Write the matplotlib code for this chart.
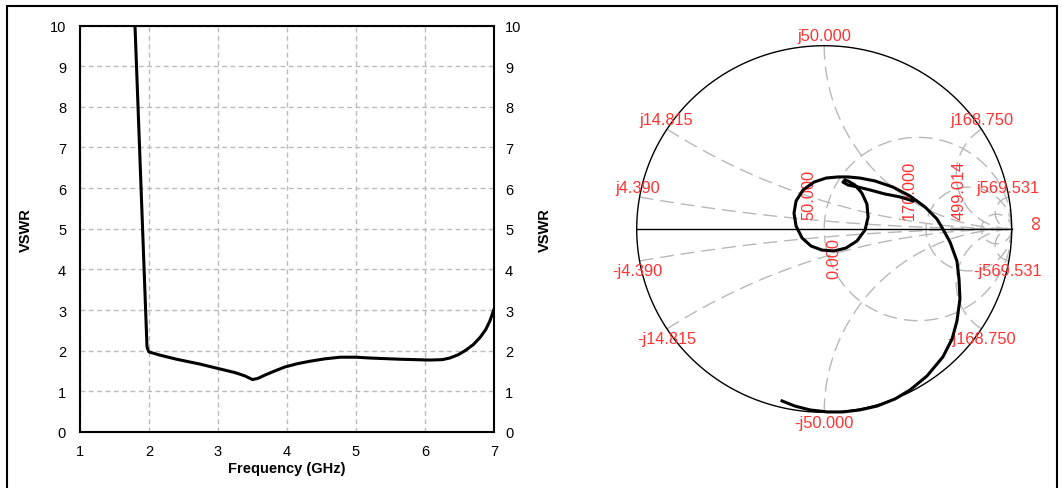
import numpy as np
import matplotlib.pyplot as plt
from matplotlib.patches import Rectangle

plt.rcParams['font.family'] = ['Liberation Sans', 'DejaVu Sans']

# ---- VSWR vs frequency ----
freq = [1.797, 1.819, 1.841, 1.863, 1.885, 1.907, 1.929, 1.951, 1.971, 1.985,
        2.00, 2.16, 2.40, 2.74, 3.03, 3.25, 3.39, 3.50, 3.58, 3.68, 3.82,
        3.97, 4.15, 4.33, 4.55, 4.77, 5.00, 5.20, 5.64, 6.07, 6.25, 6.36,
        6.48, 6.58, 6.70, 6.80, 6.88, 6.94, 7.00]
vswr = [10.0, 9.0, 8.0, 7.0, 6.0, 5.0, 4.0, 3.0, 2.1, 2.02,
        1.97, 1.89, 1.79, 1.67, 1.55, 1.46, 1.38, 1.29, 1.32, 1.40, 1.50,
        1.60, 1.68, 1.74, 1.80, 1.84, 1.84, 1.82, 1.79, 1.77, 1.78, 1.82,
        1.90, 2.00, 2.15, 2.33, 2.52, 2.73, 3.02]

# ---- reflection coefficient trace ----
gamma_re = [-0.225, -0.156, -0.076, 0.015, 0.100, 0.191, 0.282, 0.378, 0.458,
            0.548, 0.633, 0.682, 0.708, 0.724, 0.719, 0.708, 0.671, 0.633,
            0.601, 0.538, 0.458, 0.366, 0.271, 0.191, 0.127,
            0.074, 0.010, -0.054, -0.113, -0.150, -0.161, -0.150, -0.118,
            -0.070, -0.012, 0.052, 0.116, 0.175, 0.218, 0.234, 0.228, 0.201,
            0.164, 0.127,
            0.110, 0.100, 0.127, 0.180, 0.244, 0.324, 0.404, 0.474]
gamma_im = [-0.938, -0.966, -0.987, -0.998, -0.998, -0.987, -0.966, -0.927, -0.878,
            -0.802, -0.698, -0.600, -0.502, -0.382, -0.273, -0.175, -0.071, 0.0,
            0.055, 0.120, 0.180, 0.229, 0.262, 0.278, 0.284,
            0.284, 0.278, 0.256, 0.213, 0.153, 0.087, 0.016, -0.049,
            -0.093, -0.115, -0.120, -0.104, -0.065, -0.005, 0.065, 0.136, 0.196,
            0.240, 0.262,
            0.267, 0.256, 0.240, 0.229, 0.213, 0.191, 0.175, 0.153]

z0 = 50.0
react_ohm = [4.390, 14.815, 50.000, 168.750, 569.531]
res_ohm = [50.000, 168.750, 569.531]

react_labels = ['j4.390', 'j14.815', 'j50.000', 'j168.750', 'j569.531',
                '-j4.390', '-j14.815', '-j50.000', '-j168.750', '-j569.531']
react_label_pos = [(-0.996, 0.229), (-0.841, 0.600), (0.0, 1.058), (0.839, 0.600), (0.980, 0.229),
                   (-0.996, -0.226), (-0.841, -0.600), (0.0, -1.056), (0.839, -0.600), (0.980, -0.226)]
res_labels = ['50.000', '0.000', '170.000', '499.014']
res_label_pos = [(-0.083, 0.191), (0.052, -0.153), (0.452, 0.215), (0.719, 0.215)]

fig = plt.figure(figsize=(10.62, 4.89), dpi=100)
W, H = 1062.0, 489.0

# ---------------- left: VSWR ----------------
ax = fig.add_axes([80 / W, 1 - 433 / H, 414 / W, 406.5 / H])
ax.plot(freq, vswr, color='black', lw=2.2, solid_joinstyle='round', zorder=3)
ax.set_xlim(1, 7)
ax.set_ylim(0, 10)
ax.set_xticks(range(1, 8))
ax.set_yticks(range(0, 11))
ax.grid(True, color='#bcbcbc', linestyle=(0, (3.5, 2.5)), lw=1)
ax.tick_params(length=0, labelsize=10.5)
ax.tick_params(axis='x', pad=9)
ax.tick_params(axis='y', pad=10)
for s in ax.spines.values():
    s.set_linewidth(1.5)
ax.set_xlabel('Frequency (GHz)', fontweight='bold', fontsize=10.5, labelpad=2)
ax.set_ylabel('VSWR', fontweight='bold', fontsize=10.5, labelpad=12)

ax2 = ax.twinx()
ax2.set_ylim(0, 10)
ax2.set_yticks(range(0, 11))
ax2.tick_params(length=0, labelsize=10.5, pad=8)
for s in ax2.spines.values():
    s.set_visible(False)
ax2.text(1.123, 0.5, 'VSWR', transform=ax.transAxes, rotation=90,
         fontweight='bold', fontsize=10.5, ha='center', va='center')

# ---------------- right: Smith chart ----------------
sm = fig.add_axes([580 / W, 0, 482 / W, 1])
sm.set_xlim(-1.3024, 1.2683)
sm.set_ylim(-1.413, 1.2548)
sm.axis('off')

grid_kw = dict(color='#b8b8b8', lw=1, linestyle=(0, (10, 5)), zorder=1)
s = np.concatenate([np.linspace(0, 1, 200), np.logspace(0, 4, 400)])
for x in react_ohm:
    xn = x / z0
    for sign in (1, -1):
        g = (s + 1j * sign * xn - 1) / (s + 1j * sign * xn + 1)
        sm.plot(g.real, g.imag, **grid_kw)
t = np.concatenate([-np.logspace(4, -3, 400), np.logspace(-3, 4, 400)])
for r in res_ohm:
    rn = r / z0
    g = (rn + 1j * t - 1) / (rn + 1j * t + 1)
    sm.plot(g.real, g.imag, **grid_kw)

th = np.linspace(0, 2 * np.pi, 600)
sm.plot(np.cos(th), np.sin(th), color='black', lw=1, zorder=2)
sm.plot([-1, 1], [0, 0], color='black', lw=1, zorder=2)

red = '#ff3333'
for lab, (px, py) in zip(react_labels, react_label_pos):
    sm.text(px, py, lab, color=red, fontsize=11.8, ha='center', va='center', zorder=4)
for lab, (px, py) in zip(res_labels, res_label_pos):
    sm.text(px, py, lab, color=red, fontsize=11.8, ha='center', va='center',
            rotation=90, zorder=4)
sm.text(1.132, 0.041, '\u221e', color=red, fontsize=15, ha='center', va='center',
        rotation=90, zorder=4)

sm.plot(gamma_re, gamma_im, color='black', lw=2.2, solid_joinstyle='round', zorder=5)

# outer frame
fig.add_artist(Rectangle((6.5 / W, -0.05), (1057 - 6.5) / W, 1 - 6.5 / H + 0.05,
                         transform=fig.transFigure, fill=False, lw=1.5,
                         edgecolor='black'))

fig.savefig('out.png', dpi=100)
